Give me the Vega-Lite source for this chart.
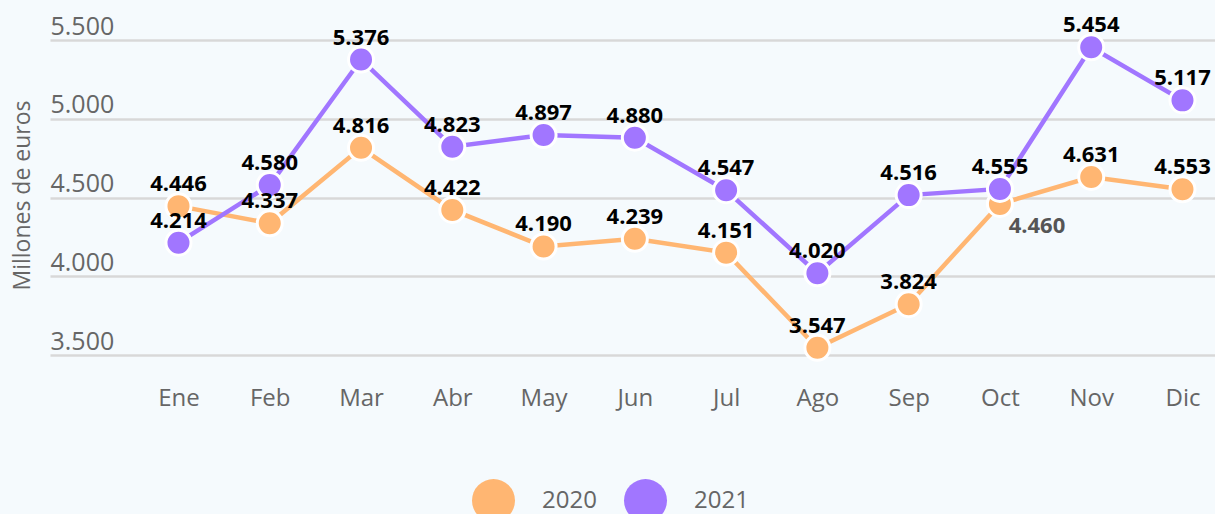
{
  "$schema": "https://vega.github.io/schema/vega-lite/v6.json",
  "autosize": "none",
  "width": 1165,
  "height": 331,
  "padding": {"left": 50, "top": 40, "right": 0, "bottom": 143},
  "background": "#f5fafd",
  "config": {
    "view": {"stroke": null},
    "font": "Open Sans",
    "locale": {"number": {"decimal": ",", "thousands": ".", "grouping": [3], "currency": ["", " €"]}}
  },
  "data": {
    "values": [
      {"mes": "Ene", "year": "2020", "valor": 4446},
      {"mes": "Feb", "year": "2020", "valor": 4337},
      {"mes": "Mar", "year": "2020", "valor": 4816},
      {"mes": "Abr", "year": "2020", "valor": 4422},
      {"mes": "May", "year": "2020", "valor": 4190},
      {"mes": "Jun", "year": "2020", "valor": 4239},
      {"mes": "Jul", "year": "2020", "valor": 4151},
      {"mes": "Ago", "year": "2020", "valor": 3547},
      {"mes": "Sep", "year": "2020", "valor": 3824},
      {"mes": "Oct", "year": "2020", "valor": 4460},
      {"mes": "Nov", "year": "2020", "valor": 4631},
      {"mes": "Dic", "year": "2020", "valor": 4553},
      {"mes": "Ene", "year": "2021", "valor": 4214},
      {"mes": "Feb", "year": "2021", "valor": 4580},
      {"mes": "Mar", "year": "2021", "valor": 5376},
      {"mes": "Abr", "year": "2021", "valor": 4823},
      {"mes": "May", "year": "2021", "valor": 4897},
      {"mes": "Jun", "year": "2021", "valor": 4880},
      {"mes": "Jul", "year": "2021", "valor": 4547},
      {"mes": "Ago", "year": "2021", "valor": 4020},
      {"mes": "Sep", "year": "2021", "valor": 4516},
      {"mes": "Oct", "year": "2021", "valor": 4555},
      {"mes": "Nov", "year": "2021", "valor": 5454},
      {"mes": "Dic", "year": "2021", "valor": 5117}
    ]
  },
  "encoding": {
    "x": {
      "field": "mes", "type": "ordinal",
      "sort": ["Ene","Feb","Mar","Abr","May","Jun","Jul","Ago","Sep","Oct","Nov","Dic"],
      "scale": {"type": "point", "padding": 0.882, "align": 0.798},
      "axis": {"title": null, "domain": false, "ticks": false, "labelAngle": 0, "labelPadding": 15, "labelFontSize": 24, "labelColor": "#666666", "labelFont": "Open Sans"}
    },
    "y": {
      "field": "valor", "type": "quantitative",
      "scale": {"domain": [3400, 5500], "nice": false, "zero": false},
      "axis": {
        "title": "Millones de euros", "titleFontSize": 23, "titleFontWeight": "normal", "titleColor": "#666666", "titleX": -28, "titleY": 155, "titleBaseline": "middle", "titleAlign": "center", "titleFont": "Open Sans",
        "values": [3500, 4000, 4500, 5000, 5500], "format": ",d",
        "domain": false, "ticks": false, "grid": true, "gridColor": "#d8d8d8", "gridWidth": 2.5,
        "labelAlign": "left", "labelBaseline": "alphabetic", "labelPadding": 0, "labelOffset": -6,
        "labelFontSize": 25, "labelColor": "#666666", "labelFont": "Open Sans"
      }
    }
  },
  "layer": [
    {
      "mark": {"type": "line", "strokeWidth": 4.5},
      "encoding": {
        "stroke": {
          "field": "year", "type": "nominal",
          "scale": {"domain": ["2020", "2021"], "range": ["#ffb672", "#a176ff"]},
          "legend": {
            "title": null, "orient": "none", "legendX": 422, "legendY": 439, "direction": "horizontal",
            "symbolType": "circle", "symbolSize": 1849, "symbolStrokeWidth": 0, "symbolOpacity": 1,
            "labelFontSize": 24, "labelColor": "#666666", "labelFont": "Open Sans", "labelOffset": 27, "columnPadding": 27
          }
        }
      }
    },
    {
      "mark": {"type": "point", "shape": "circle", "filled": true, "size": 625, "stroke": "white", "strokeWidth": 3, "opacity": 1},
      "encoding": {
        "fill": {
          "field": "year", "type": "nominal",
          "scale": {"domain": ["2020", "2021"], "range": ["#ffb672", "#a176ff"]},
          "legend": {
            "title": null, "orient": "none", "legendX": 422, "legendY": 439, "direction": "horizontal",
            "symbolType": "circle", "symbolSize": 1849, "symbolStrokeWidth": 0, "symbolOpacity": 1,
            "labelFontSize": 24, "labelColor": "#666666", "labelFont": "Open Sans", "labelOffset": 27, "columnPadding": 27
          }
        }
      }
    },
    {
      "transform": [{"filter": "!(datum.mes == 'Oct' && datum.year == '2020')"}],
      "mark": {"type": "text", "dy": -22, "fontSize": 22, "fontWeight": "bold", "color": "#000000", "font": "Open Sans"},
      "encoding": {"text": {"field": "valor", "type": "quantitative", "format": ",d"}}
    },
    {
      "transform": [{"filter": "datum.mes == 'Oct' && datum.year == '2020'"}],
      "mark": {"type": "text", "dy": 22, "dx": 37, "fontSize": 22, "fontWeight": "bold", "color": "#555555", "font": "Open Sans"},
      "encoding": {"text": {"field": "valor", "type": "quantitative", "format": ",d"}}
    }
  ]
}
